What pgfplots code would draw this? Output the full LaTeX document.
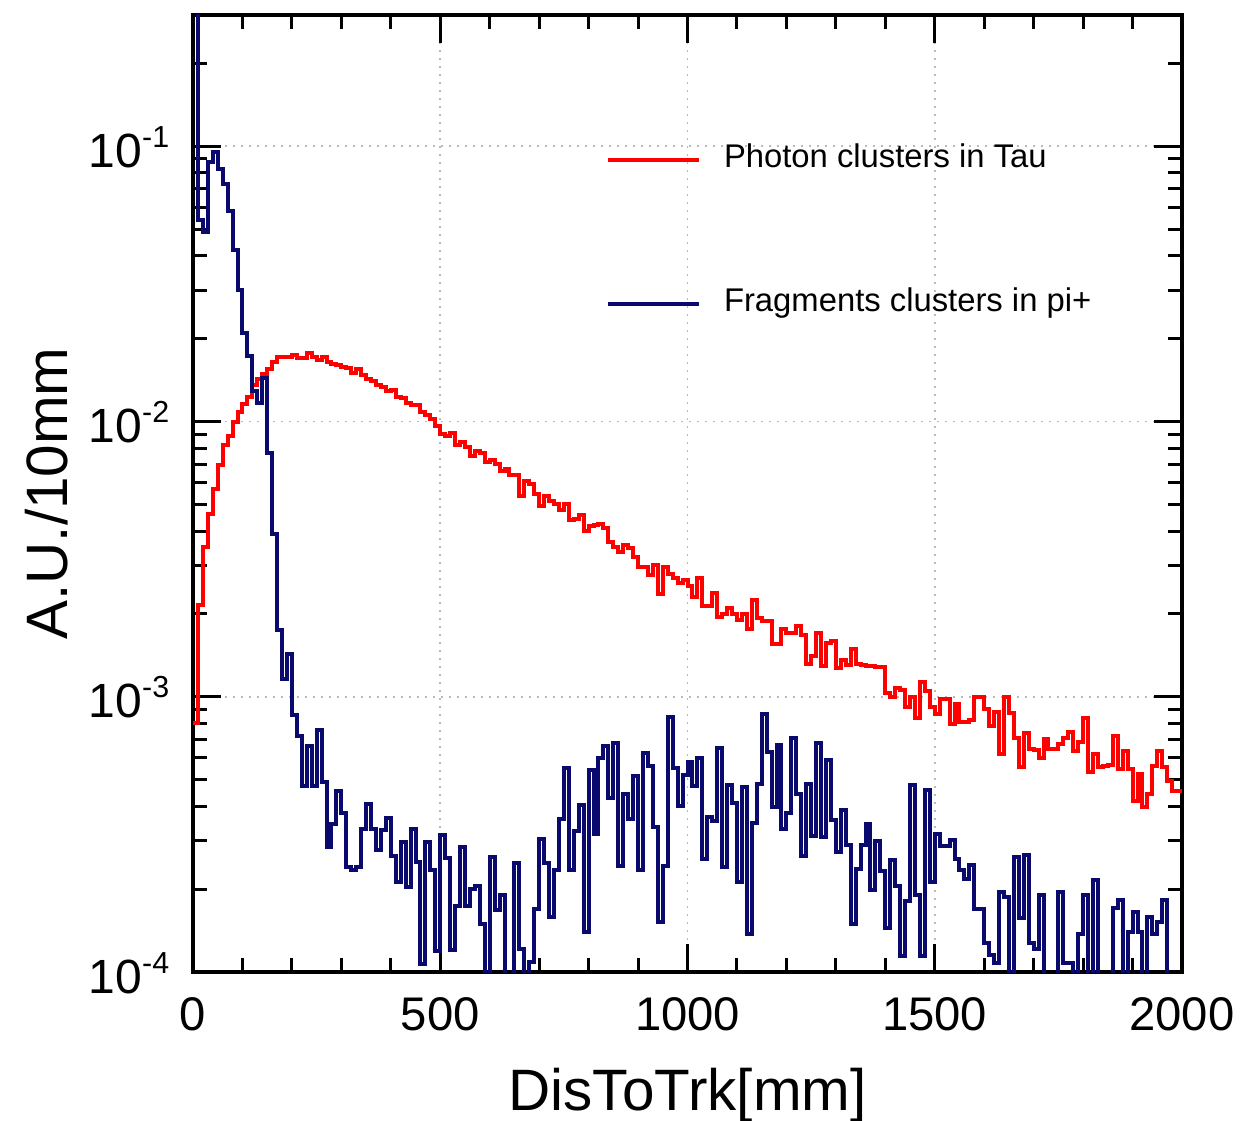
\documentclass[border=0pt]{standalone}
\usepackage{fontspec}
\setmainfont{Liberation Sans}
\usepackage{pgfplots}
\usepackage{pgfplotstable}
\pgfplotsset{compat=1.18}
\definecolor{histred}{RGB}{255,0,0}
\definecolor{histblue}{RGB}{10,10,110}

\pgfplotstableread{
x y
0 0.0008
10 0.00215
20 0.00349
30 0.00462
40 0.00567
50 0.00695
60 0.00822
70 0.00886
80 0.00998
90 0.01087
100 0.01159
110 0.0123
120 0.0136
130 0.0143
140 0.0149
150 0.0155
160 0.0164
170 0.0172
180 0.0172
190 0.0172
200 0.0175
210 0.0170
220 0.0170
230 0.0178
240 0.0171
250 0.0167
260 0.0172
270 0.0164
280 0.0162
290 0.0160
300 0.0158
310 0.0156
320 0.0150
330 0.0155
340 0.0147
350 0.0143
360 0.0140
370 0.0136
380 0.0134
390 0.0129
400 0.0130
410 0.0123
420 0.0122
430 0.0117
440 0.01146
450 0.01146
460 0.0108
470 0.0106
480 0.0102
490 0.00966
500 0.00903
510 0.00888
520 0.0091
530 0.0082
540 0.00843
550 0.0081
560 0.00748
570 0.0078
580 0.0077
590 0.0071
600 0.00726
610 0.00703
620 0.00659
630 0.00673
640 0.00639
650 0.00639
660 0.00538
670 0.00606
680 0.00592
690 0.00545
700 0.00495
710 0.00538
720 0.00516
730 0.0050
740 0.00476
750 0.0050
760 0.0044
770 0.00443
780 0.00458
790 0.00399
800 0.00419
810 0.00421
820 0.00425
830 0.00412
840 0.00366
850 0.00351
860 0.00337
870 0.00355
880 0.00348
890 0.00322
900 0.00296
910 0.00296
920 0.00277
930 0.0030
940 0.00236
950 0.00296
960 0.0028
970 0.0027
980 0.0026
990 0.00265
1000 0.00253
1010 0.00231
1020 0.00271
1030 0.00214
1040 0.00214
1050 0.00239
1060 0.00195
1070 0.0020
1080 0.0021
1090 0.0020
1100 0.0019
1110 0.0020
1120 0.00176
1130 0.00224
1140 0.00193
1150 0.00188
1160 0.00188
1170 0.00155
1180 0.00156
1190 0.00176
1200 0.0017
1210 0.00171
1220 0.00181
1230 0.00168
1240 0.00131
1250 0.00141
1260 0.00171
1270 0.00129
1280 0.00157
1290 0.00159
1300 0.00127
1310 0.00136
1320 0.0013
1330 0.00149
1340 0.00131
1350 0.0013
1360 0.00129
1370 0.00129
1380 0.00128
1390 0.00128
1400 0.00103
1410 0.000995
1420 0.00108
1430 0.00106
1440 0.00092
1450 0.000995
1460 0.000837
1470 0.00113
1480 0.00105
1490 0.00092
1500 0.000865
1510 0.00098
1520 0.00098
1530 0.000796
1540 0.00094
1550 0.000807
1560 0.000807
1570 0.00082
1580 0.0010
1590 0.0010
1600 0.000902
1610 0.000785
1620 0.000877
1630 0.00062
1640 0.000995
1650 0.00087
1660 0.000711
1670 0.000557
1680 0.000736
1690 0.000646
1700 0.00064
1710 0.0006
1720 0.000702
1730 0.000646
1740 0.000646
1750 0.000674
1760 0.000711
1770 0.000743
1780 0.000634
1790 0.000685
1800 0.000837
1810 0.000532
1820 0.000622
1830 0.000557
1840 0.00056
1850 0.000566
1860 0.000722
1870 0.000547
1880 0.000636
1890 0.000547
1900 0.000417
1910 0.000524
1920 0.000397
1930 0.000442
1940 0.000562
1950 0.000636
1960 0.000557
1970 0.000493
1980 0.000456
1990 0.000456
2000 0.000456
}\redtab

\pgfplotstableread{
x y
0 0.4
10 0.054
20 0.049
30 0.088
40 0.095
50 0.083
60 0.073
70 0.058
80 0.042
90 0.030
100 0.021
110 0.0173
120 0.0129
130 0.0117
140 0.0144
150 0.0077
160 0.0039
170 0.00175
180 0.00116
190 0.00143
200 0.00086
210 0.00072
220 0.000475
230 0.00066
240 0.000475
250 0.00076
260 0.00049
270 0.000285
280 0.000344
290 0.000456
300 0.000377
310 0.00024
320 0.000235
330 0.00024
340 0.000332
350 0.000407
360 0.000332
370 0.000277
380 0.000327
390 0.000364
400 0.000264
410 0.000213
420 0.000297
430 0.000204
440 0.000332
450 0.00025
460 0.000107
470 0.000297
480 0.000235
490 0.000119
500 0.000314
510 0.000259
520 0.00012
530 0.000174
540 0.000285
550 0.000174
560 0.0002
570 0.000205
580 0.00015
590 0.00005
600 0.000261
610 0.000168
620 0.00019
630 0.00005
640 0.00005
650 0.000249
660 0.000121
670 0.00005
680 0.000109
690 0.00017
700 0.000304
710 0.000249
720 0.000158
730 0.000234
740 0.000359
750 0.00055
760 0.000234
770 0.000324
780 0.000403
790 0.00014
800 0.000544
810 0.000316
820 0.0006
830 0.00066
840 0.00043
850 0.00068
860 0.000243
870 0.000443
880 0.000359
890 0.000515
900 0.000234
910 0.000625
920 0.000559
930 0.000337
940 0.000152
950 0.000243
960 0.000847
970 0.00055
980 0.0004
990 0.000521
1000 0.00058
1010 0.000475
1020 0.000597
1030 0.000257
1040 0.000366
1050 0.000355
1060 0.000649
1070 0.00024
1080 0.000479
1090 0.00041
1100 0.000212
1110 0.000471
1120 0.000138
1130 0.000347
1140 0.000484
1150 0.000865
1160 0.000628
1170 0.000397
1180 0.000667
1190 0.000331
1200 0.000377
1210 0.000706
1220 0.000443
1230 0.000265
1240 0.000484
1250 0.000311
1260 0.000677
1270 0.000309
1280 0.000589
1290 0.000357
1300 0.000272
1310 0.000387
1320 0.00029
1330 0.000149
1340 0.000236
1350 0.00029
1360 0.000345
1370 0.000199
1380 0.0003
1390 0.000232
1400 0.000144
1410 0.000256
1420 0.000206
1430 0.000114
1440 0.000181
1450 0.000478
1460 0.00019
1470 0.000114
1480 0.000458
1490 0.000212
1500 0.000316
1510 0.000286
1520 0.000286
1530 0.000303
1540 0.000258
1550 0.000234
1560 0.000218
1570 0.000244
1580 0.00017
1590 0.00017
1600 0.000128
1610 0.000115
1620 0.000108
1630 0.000195
1640 0.000188
1650 0.00005
1660 0.000261
1670 0.000157
1680 0.000267
1690 0.000127
1700 0.000121
1710 0.00019
1720 0.00005
1730 0.00005
1740 0.00005
1750 0.000195
1760 0.000108
1770 0.000108
1780 0.00005
1790 0.000138
1800 0.00019
1810 0.00005
1820 0.000216
1830 0.00005
1840 0.00005
1850 0.00005
1860 0.000171
1870 0.000182
1880 0.00005
1890 0.00014
1900 0.000165
1910 0.00014
1920 0.00005
1930 0.000158
1940 0.000138
1950 0.000152
1960 0.000182
1970 0.00005
1980 0.00005
1990 0.00005
2000 0.00005
}\bluetab

\begin{document}
\begin{tikzpicture}
\path[use as bounding box] (-48.25pt,-37.25pt) rectangle (266.75pt,243pt);
\begin{axis}[
  scale only axis,
  width=247.25pt, height=239.25pt,
  xmin=0, xmax=2000,
  ymode=log, ymin=1e-4, ymax=0.3,
  xtick={0,500,1000,1500,2000},
  minor xtick={100,200,300,400,600,700,800,900,1100,1200,1300,1400,1600,1700,1800,1900},
  ytick={1e-4,1e-3,1e-2,1e-1},
  yticklabels={10\raisebox{5pt}{\fontsize{7.6}{9}\selectfont -4},10\raisebox{5pt}{\fontsize{7.6}{9}\selectfont -3},10\raisebox{5pt}{\fontsize{7.6}{9}\selectfont -2},10\raisebox{5pt}{\fontsize{7.6}{9}\selectfont -1}},
  minor ytick={2e-4,3e-4,4e-4,5e-4,6e-4,7e-4,8e-4,9e-4,2e-3,3e-3,4e-3,5e-3,6e-3,7e-3,8e-3,9e-3,2e-2,3e-2,4e-2,5e-2,6e-2,7e-2,8e-2,9e-2,0.2},
  tick align=inside,
  tick pos=both,
  major tick length=7pt,
  minor tick length=3.5pt,
  every tick/.style={black, line width=0.75pt},
  axis line style={line width=1pt},
  grid=major,
  major grid style={gray!55, line width=0.4pt, dash pattern=on 0.5pt off 1.5pt},
  /pgf/number format/assume math mode=true,
  /pgf/number format/1000 sep={},
  xticklabel style={font=\fontsize{11.8}{14}\selectfont, inner sep=0pt, anchor=north, yshift=-6.25pt},
  yticklabel style={font=\fontsize{12}{14}\selectfont, inner sep=0pt, anchor=base east, xshift=-5.75pt, yshift=-5.25pt},
  xlabel={DisToTrk[mm]},
  ylabel={A.U./10mm},
  xlabel style={font=\fontsize{14.6}{17}\selectfont, at={(axis description cs:0.5,-0.1442)}, anchor=base, inner sep=0pt},
  ylabel style={font=\fontsize{14.6}{17}\selectfont, at={(axis description cs:-0.1264,0.5)}, anchor=base, inner sep=0pt},
  legend style={draw=none, fill=none, inner sep=0pt, outer sep=0pt,
    at={(axis description cs:0.4176,0.8652)}, anchor=north west,
    font=\fontsize{8.2}{10}\selectfont, row sep=28.2pt, column sep=5.75pt,
    nodes={inner sep=0pt, text height=6pt, text depth=1.8pt}},
  legend cell align=left,
  legend image code/.code={\draw[#1] (0pt,0pt) -- (22.75pt,0pt);},
]
\addplot[const plot, histred, line width=1pt] table[x=x,y=y] {\redtab};
\addlegendentry{Photon clusters in Tau}
\addplot[const plot, histblue, line width=1pt] table[x=x,y=y] {\bluetab};
\addlegendentry{Fragments clusters in pi+}
\end{axis}
\end{tikzpicture}
\end{document}
